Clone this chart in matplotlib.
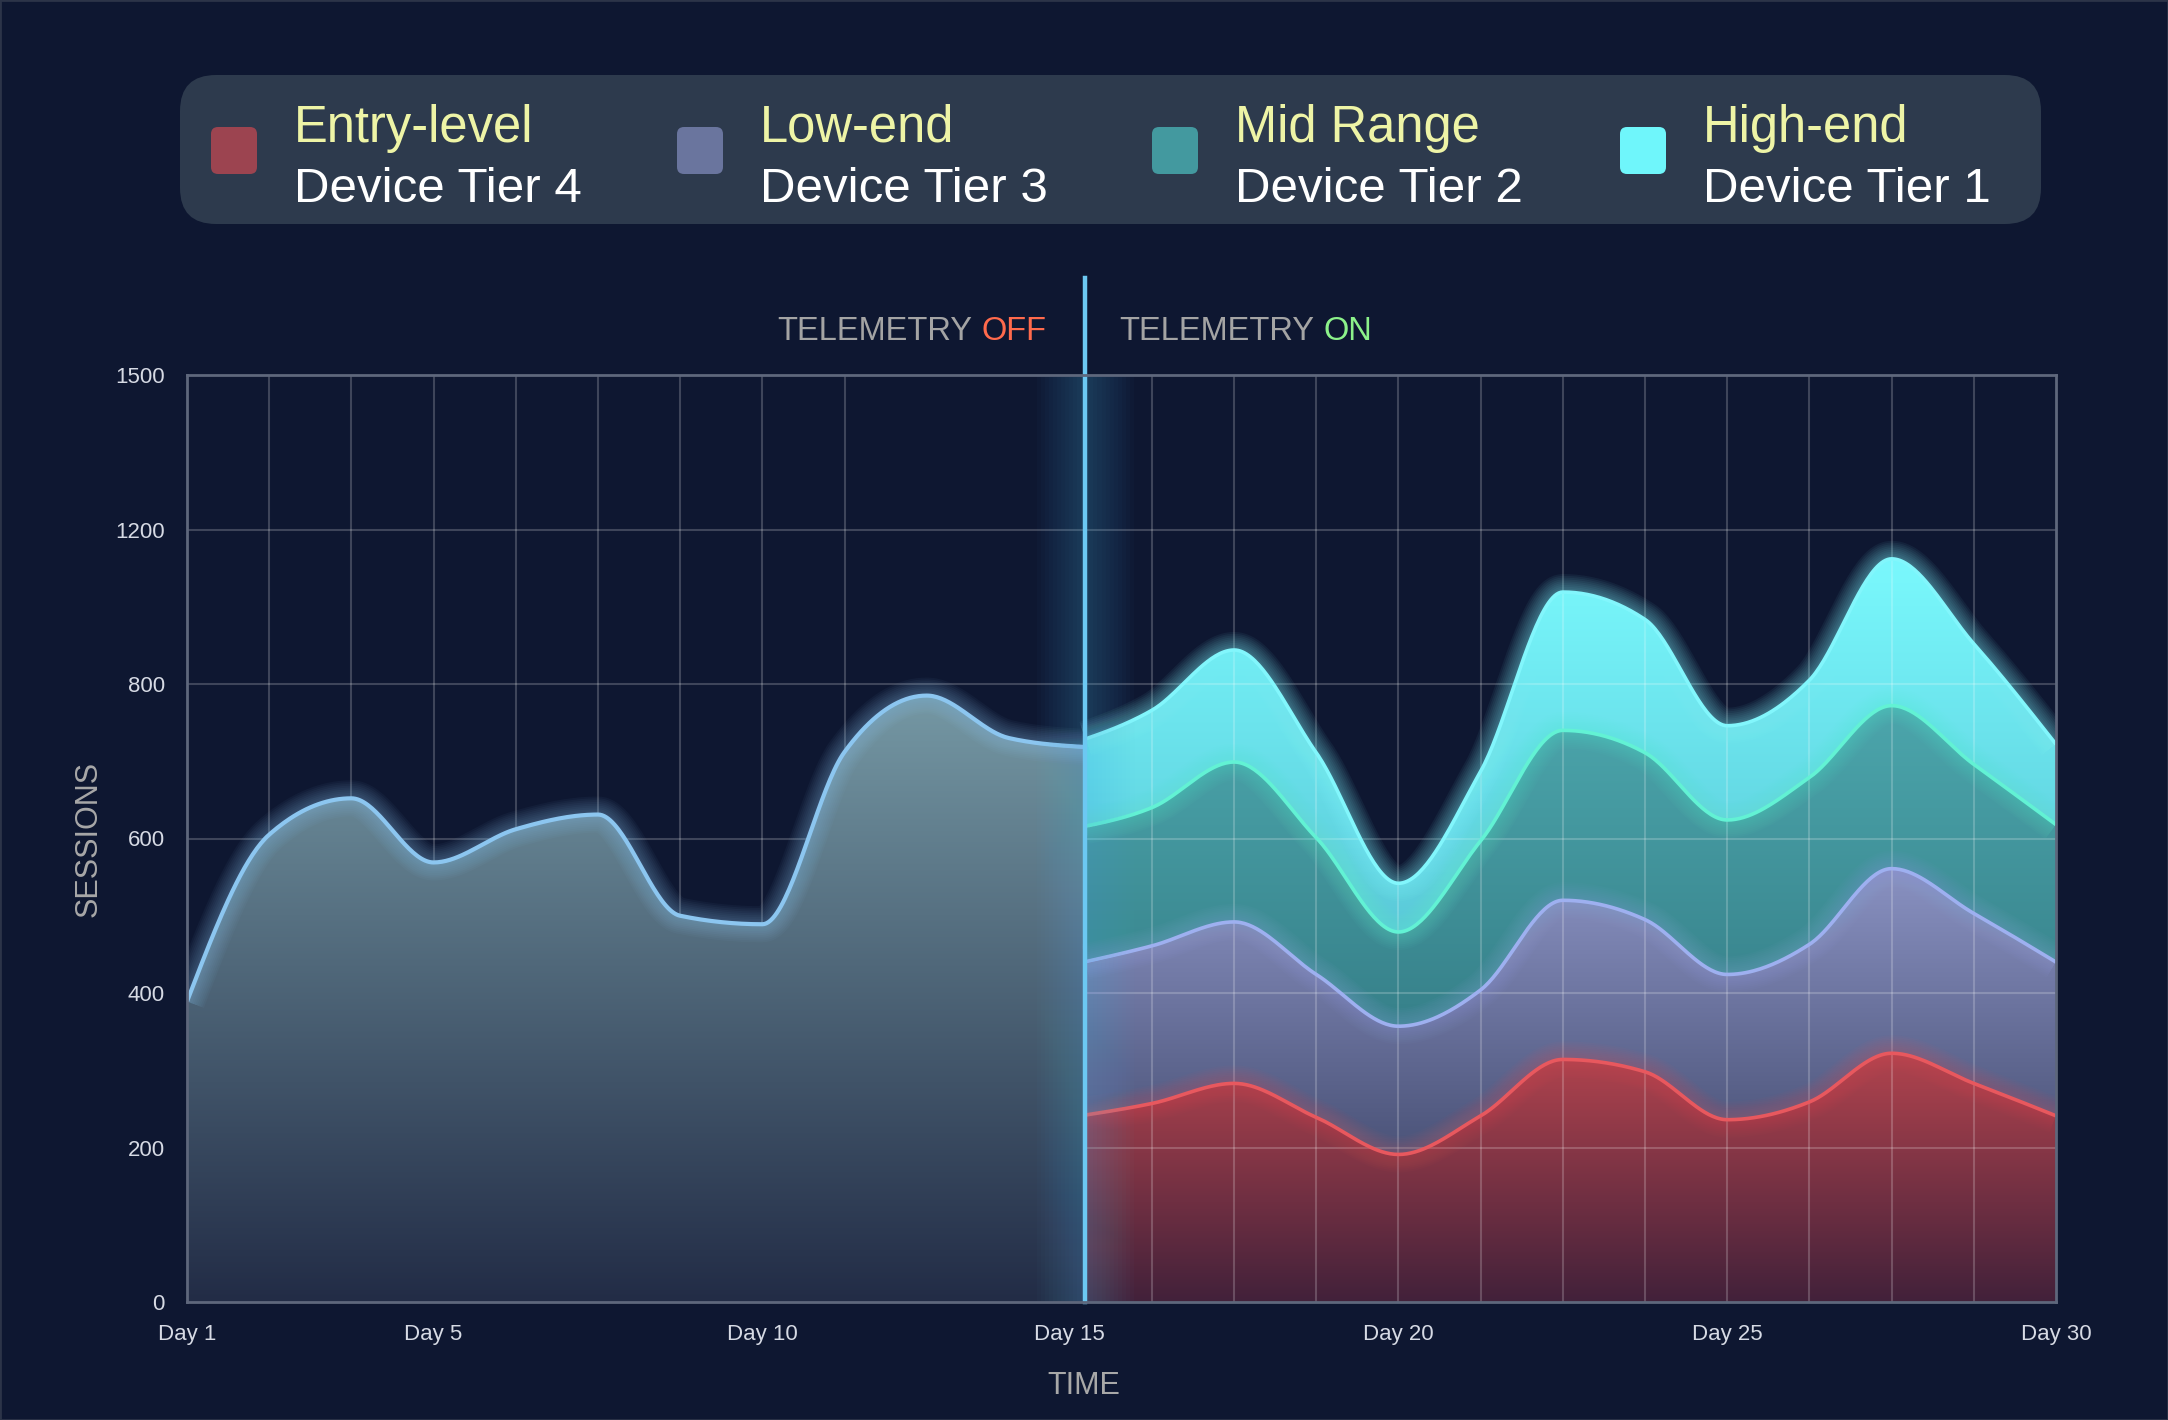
import numpy as np
import matplotlib
matplotlib.use('Agg')
import matplotlib.pyplot as plt
from matplotlib.patches import FancyBboxPatch, Rectangle
from matplotlib.transforms import IdentityTransform
from matplotlib.colors import to_rgba

plt.rcParams['font.family'] = ['Liberation Sans', 'DejaVu Sans']

# ---- data ----
tier_names = ['Entry-level', 'Low-end', 'Mid Range', 'High-end']
tier_subs = ['Device Tier 4', 'Device Tier 3', 'Device Tier 2', 'Device Tier 1']
tier_colors = ['#9c4450', '#6a759e', '#43999f', '#6ff6fb']

# telemetry off: only total sessions known
off_total = [389, 605, 652, 569, 612, 631, 500, 489, 712, 785, 730, 718]

# telemetry on: per tier sessions
entry = [239, 257, 283, 239, 191, 241, 314, 298, 236, 259, 322, 283, 241]
low = [197, 204, 209, 185, 166, 163, 206, 197, 188, 204, 239, 220, 199]
mid = [176, 179, 207, 177, 122, 193, 220, 216, 200, 216, 211, 193, 178]
high = [110, 126, 189, 110, 63, 90, 298, 256, 122, 131, 352, 208, 104]

y_tick_vals = [0, 200, 400, 600, 800, 1200, 1500]
x_tick_labels = ['Day 1', 'Day 5', 'Day 10', 'Day 15', 'Day 20', 'Day 25', 'Day 30']

BG = '#0e1731'
W, H = 2168, 1420


def to_axis(v):
    # y axis has evenly spaced ticks with uneven values
    return np.interp(v, y_tick_vals, np.arange(len(y_tick_vals)))


def monotone(x, y, n=40):
    x = np.asarray(x, float)
    y = np.asarray(y, float)
    h = np.diff(x)
    d = np.diff(y) / h
    m = np.zeros_like(y)
    for i in range(1, len(y) - 1):
        p = (d[i - 1] * h[i] + d[i] * h[i - 1]) / (h[i - 1] + h[i])
        m[i] = (np.sign(d[i - 1]) + np.sign(d[i])) * min(abs(d[i - 1]), abs(d[i]), 0.5 * abs(p))
    m[0] = (3 * d[0] - m[1]) / 2
    m[-1] = (3 * d[-1] - m[-2]) / 2
    xs, ys = [], []
    for i in range(len(h)):
        s = np.linspace(0, 1, n, endpoint=(i == len(h) - 1))
        h00 = 2 * s**3 - 3 * s**2 + 1
        h10 = s**3 - 2 * s**2 + s
        h01 = -2 * s**3 + 3 * s**2
        h11 = s**3 - s**2
        xs.append(x[i] + s * h[i])
        ys.append(h00 * y[i] + h10 * h[i] * m[i] + h01 * y[i + 1] + h11 * h[i] * m[i + 1])
    return np.concatenate(xs), np.concatenate(ys)


def cut(xs, ys, xb, side):
    yb = np.interp(xb, xs, ys)
    if side == 'left':
        k = xs < xb
        return np.append(xs[k], xb), np.append(ys[k], yb)
    k = xs > xb
    return np.insert(xs[k], 0, xb), np.insert(ys[k], 0, yb)


def grad_fill(ax, xs, lo, hi, c_top, c_bot, z):
    poly = ax.fill_between(xs, lo, hi, color='none', lw=0)
    path = poly.get_paths()[0]
    frac = np.linspace(0, 1, 256)[:, None]
    ct = np.array(to_rgba(c_top))
    cb = np.array(to_rgba(c_bot))
    img = (cb + (ct - cb) * frac)[:, None, :]
    im = ax.imshow(img, extent=[xs.min(), xs.max(), 0, hi.max()], origin='lower',
                   aspect='auto', zorder=z, interpolation='bilinear')
    im.set_clip_path(path, transform=ax.transData)


def glow_line(ax, xs, ys, color, z, lw=3.0, strength=0.035):
    for w in np.linspace(26, 5, 9):
        ax.plot(xs, ys, color=color, lw=w, alpha=strength, zorder=z, solid_capstyle='butt')
    ax.plot(xs, ys, color=color, lw=lw, zorder=z + 0.1, solid_capstyle='butt')


fig = plt.figure(figsize=(W / 100, H / 100), dpi=100, facecolor=BG)
ax = fig.add_axes([187 / W, 118 / H, 1869 / W, 927 / H])
ax.set_facecolor(BG)

left_x = np.arange(len(off_total), dtype=float)
right_x = 10.74 + np.arange(len(entry))
xb = 10.93

# grid
for gx in left_x[1:9]:
    ax.axvline(gx, color='white', alpha=0.2, lw=1.5, zorder=1.5)
for gx in right_x[1:12]:
    ax.axvline(gx, color='white', alpha=0.2, lw=1.5, zorder=1.5)
for gy in range(1, len(y_tick_vals) - 1):
    ax.axhline(gy, color='white', alpha=0.2, lw=1.5, zorder=1.5)

# telemetry off area
lx, ly = monotone(left_x, to_axis(off_total))
lx, ly = cut(lx, ly, xb, 'left')
grad_fill(ax, lx, np.zeros_like(ly), ly, '#7598a4', '#222c46', 2)
glow_line(ax, lx, ly, '#8cc6f0', 4, strength=0.045)

# telemetry on stacked areas
cum = np.cumsum([entry, low, mid, high], axis=0)
bounds = [None]
for row in cum:
    sx, sy = monotone(right_x, to_axis(row))
    bounds.append(cut(sx, sy, xb, 'right'))
rx = bounds[1][0]
bounds[0] = (rx, np.zeros_like(rx))

band_top = ['#b2444e', '#8a92c2', '#4ca6ac', '#7af9fd']
band_bot = ['#42213a', '#2a3252', '#24606c', '#3a9ab4']
line_cols = ['#e8585e', '#9eb0f0', '#62f2d4', '#82f6fc']
strengths = [0.03, 0.03, 0.035, 0.055]
for i in range(4):
    grad_fill(ax, rx, bounds[i][1], bounds[i + 1][1], band_top[i], band_bot[i], 1)
for i in range(4):
    glow_line(ax, rx, bounds[i + 1][1], line_cols[i], 4 + i * 0.2, lw=2.6, strength=strengths[i])

# divider line with glow
for w in np.linspace(70, 6, 12):
    ax.axvline(xb, ymin=0, ymax=1, color='#5ab8e8', lw=w, alpha=0.025, zorder=5)
ax.axvline(xb, ymin=0, ymax=1.105, color='#6cc8f2', lw=3.2, zorder=6, clip_on=False)

ax.set_xlim(0, right_x[-1])
ax.set_ylim(0, len(y_tick_vals) - 1)
ax.set_yticks(np.arange(len(y_tick_vals)))
ax.set_yticklabels([str(v) for v in y_tick_vals])
ax.set_xticks([left_x[0], left_x[3], left_x[7], right_x[0], right_x[4], right_x[8], right_x[12]])
ax.set_xticklabels(x_tick_labels)
ax.tick_params(axis='both', length=0, labelsize=16, colors='#d6dae4')
ax.tick_params(axis='y', pad=16)
ax.tick_params(axis='x', pad=16)
for s in ax.spines.values():
    s.set_color('#5e677c')
    s.set_linewidth(2)
    s.set_zorder(7)

fig.text(1084 / W, 1 - 1394 / H, 'TIME', fontsize=22, color='#a8a8a8', ha='center', va='baseline')
ax.set_ylabel('SESSIONS', fontsize=22, color='#a8a8a8', labelpad=8)

# telemetry labels
t_off = fig.text(777 / W, 1 - 340 / H, 'TELEMETRY', fontsize=23.5, color='#a4a4a4', va='baseline')
ax.annotate('OFF', xy=(1, 0), xycoords=t_off, xytext=(7, 0), textcoords='offset points',
            fontsize=23.5, color='#ff6a4c', va='bottom', annotation_clip=False)
t_on = fig.text(1119 / W, 1 - 340 / H, 'TELEMETRY', fontsize=23.5, color='#a4a4a4', va='baseline')
ax.annotate('ON', xy=(1, 0), xycoords=t_on, xytext=(7, 0), textcoords='offset points',
            fontsize=23.5, color='#8cf28a', va='bottom', annotation_clip=False)

# legend panel
fig.add_artist(FancyBboxPatch((180, H - 224), 1861, 149, boxstyle='round,pad=0,rounding_size=36',
                              transform=IdentityTransform(), facecolor='#2d3a4d', edgecolor='none'))
marker_x = [211, 677, 1152, 1620]
for mx, name, sub, col in zip(marker_x, tier_names, tier_subs, tier_colors):
    fig.add_artist(FancyBboxPatch((mx, H - 174), 46, 47, boxstyle='round,pad=0,rounding_size=7',
                                  transform=IdentityTransform(), facecolor=col, edgecolor='none'))
    fig.text((mx + 83) / W, 1 - 142 / H, name, fontsize=36.5, color='#eef4a6', va='baseline')
    fig.text((mx + 83) / W, 1 - 202 / H, sub, fontsize=35.5, color='white', va='baseline')

fig.add_artist(Rectangle((0, 0), 1, 1, transform=fig.transFigure, facecolor='none',
                         edgecolor='#2c3448', lw=2))

fig.savefig('out.png', dpi=100, facecolor=BG)
